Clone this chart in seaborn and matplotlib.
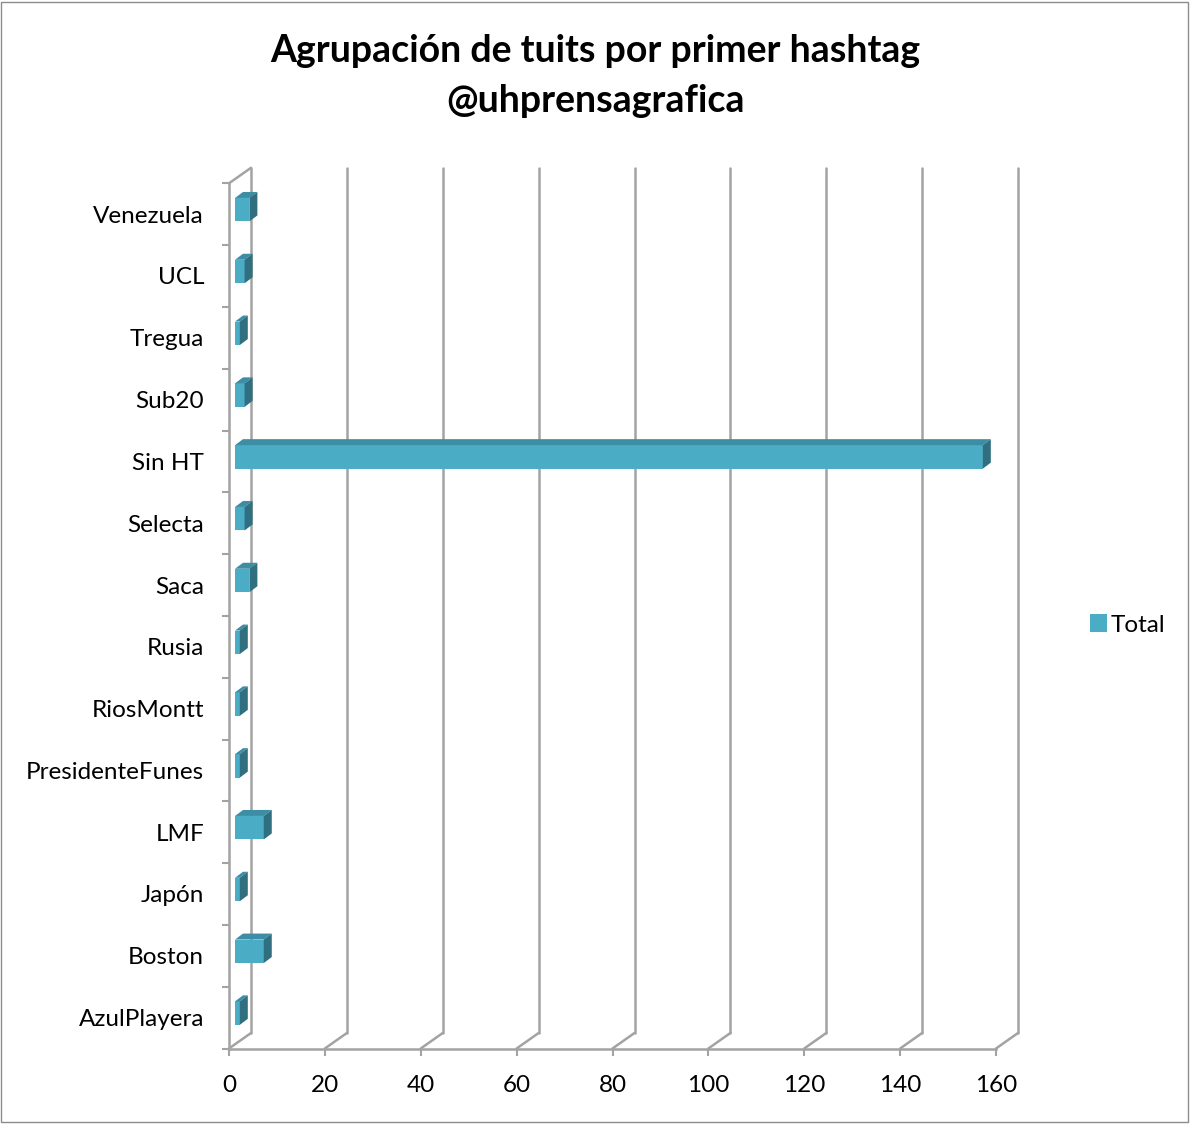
import matplotlib
matplotlib.use("Agg")
import matplotlib.pyplot as plt
import pandas as pd
import seaborn as sns
from matplotlib.lines import Line2D
from matplotlib.patches import Patch, Polygon, Rectangle
from matplotlib.transforms import IdentityTransform, ScaledTranslation

# data, top to bottom
hashtags = ["Venezuela", "UCL", "Tregua", "Sub20", "Sin HT", "Selecta", "Saca",
            "Rusia", "RiosMontt", "PresidenteFunes", "LMF", "Japón", "Boston",
            "AzulPlayera"]
totals = [3, 2, 1, 2, 156, 2, 3, 1, 1, 1, 6, 1, 6, 1]
x_ticks = [0, 20, 40, 60, 80, 100, 120, 140, 160]

FRONT = "#4bacc6"
TOP = "#3d8ea4"
SIDE = "#2f6f80"
GRID = "#a3a3a3"

sns.set_theme(style="white")
plt.rcParams["font.family"] = ["Lato", "DejaVu Sans"]
plt.rcParams["text.color"] = "black"

W, H = 1191, 1125
fig = plt.figure(figsize=(W / 100, H / 100), dpi=100)
fig.patch.set_facecolor("white")

# front plane of the plot area (pixels, image coords)
left, right, top, bottom = 229, 996, 183.3, 1048.5
ax = fig.add_axes([left / W, 1 - bottom / H, (right - left) / W, (bottom - top) / H])

df = pd.DataFrame({"Hashtag": hashtags, "Total": totals})
sns.barplot(data=df, x="Total", y="Hashtag", orient="h", color=FRONT,
            saturation=1, width=0.38, ax=ax, zorder=3)
ax.set_xlim(0, 160)
ax.set_ylim(len(hashtags) - 0.5, -0.5)
ax.set_xlabel("")
ax.set_ylabel("")
ax.set_facecolor("none")

for s in ["top", "right"]:
    ax.spines[s].set_visible(False)
for s in ["left", "bottom"]:
    ax.spines[s].set_color(GRID)
    ax.spines[s].set_linewidth(1.8)

ax.set_xticks(x_ticks)
ax.set_yticks(range(len(hashtags)))
ax.set_yticklabels(hashtags)
ax.set_yticks([i - 0.5 for i in range(len(hashtags) + 1)], minor=True)
ax.tick_params(axis="y", which="major", length=0, pad=18, labelsize=17.5, labelcolor="black")
ax.tick_params(axis="y", which="minor", length=5, width=1.5, color=GRID, left=True)
ax.tick_params(axis="x", which="major", length=5, width=1.5, color=GRID, bottom=True,
               pad=14, labelsize=17.5, labelcolor="black")

# 3D depth (pixels, display coords: y up)
DX, DY = 22, 15.5
BOX, BOY = 6, 4.5      # bar offset into depth
BDX, BDY = 8, 6        # bar thickness in depth
ident = IdentityTransform()


def disp(x, y):
    return ax.transData.transform((x, y))


# back wall gridlines and floor diagonals
for v in x_ticks:
    fx, fy = disp(v, len(hashtags) - 0.5)
    _, ty = disp(v, -0.5)
    ax.add_line(Line2D([fx, fx + DX], [fy, fy + DY], transform=ident, color=GRID,
                       lw=1.8, clip_on=False, zorder=1))
    ax.add_line(Line2D([fx + DX, fx + DX], [fy + DY, ty + DY], transform=ident,
                       color=GRID, lw=1.8, clip_on=False, zorder=1))
# top-left diagonal of side wall
fx, ty = disp(0, -0.5)
ax.add_line(Line2D([fx, fx + DX], [ty, ty + DY], transform=ident, color=GRID,
                   lw=1.8, clip_on=False, zorder=1))

# push bars into the depth and add the top and side faces
shift = ScaledTranslation(BOX / 100, BOY / 100, fig.dpi_scale_trans)
for p in list(ax.patches):
    x0, y0 = p.get_x(), p.get_y()
    x1, y1 = x0 + p.get_width(), y0 + p.get_height()
    p.set_transform(ax.transData + shift)
    p.set_linewidth(0)
    (ax0, ay0), (ax1, ay1) = disp(x0, y0), disp(x1, y1)
    ax0, ax1 = ax0 + BOX, ax1 + BOX
    ytop, ybot = max(ay0, ay1) + BOY, min(ay0, ay1) + BOY
    top_face = Polygon([(ax0, ytop), (ax1, ytop), (ax1 + BDX, ytop + BDY), (ax0 + BDX, ytop + BDY)],
                       closed=True, transform=ident, facecolor=TOP, edgecolor="none",
                       clip_on=False, zorder=3)
    side_face = Polygon([(ax1, ybot), (ax1, ytop), (ax1 + BDX, ytop + BDY), (ax1 + BDX, ybot + BDY)],
                        closed=True, transform=ident, facecolor=SIDE, edgecolor="none",
                        clip_on=False, zorder=3)
    ax.add_patch(top_face)
    ax.add_patch(side_face)

ax.set_xlim(0, 160)
ax.set_ylim(len(hashtags) - 0.5, -0.5)

fig.text(0.5, 1 - 76 / H, "Agrupación de tuits por primer hashtag\n@uhprensagrafica",
         ha="center", va="center", fontsize=27, fontweight="bold", linespacing=1.55,
         color="black")

fig.legend(handles=[Patch(facecolor=FRONT, edgecolor="none", label="Total")],
           loc="center left", bbox_to_anchor=(1068 / W, 1 - 625 / H), frameon=False,
           fontsize=17.5, handlelength=0.7, handleheight=0.7, handletextpad=0.15)

fig.add_artist(Rectangle((1 / W, 3 / H), 1187 / W, 1120 / H, transform=fig.transFigure,
                         fill=False, edgecolor="#8c8c8c", lw=1))

fig.savefig("out.png", dpi=100)
